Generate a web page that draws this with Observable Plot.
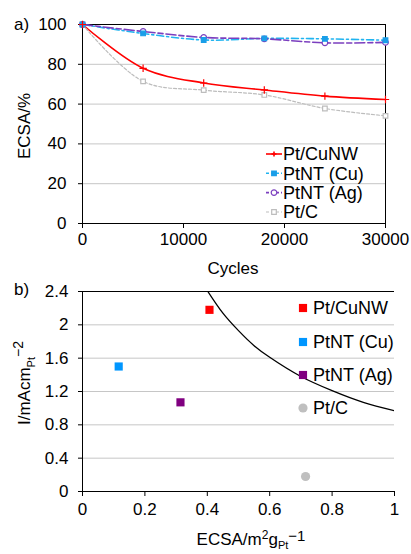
<!DOCTYPE html>
<html>
<head>
<meta charset="utf-8">
<script src="https://cdn.jsdelivr.net/npm/d3@7"></script>
<script src="https://cdn.jsdelivr.net/npm/@observablehq/plot@0.6"></script>
<style>
  html, body { margin: 0; padding: 0; background: #fff; }
  #a, #b { width: 411px; display: block; }
  svg { display: block; }
</style>
</head>
<body>
<div id="a"></div>
<div id="b"></div>
<script>
// ---------- Panel a data ----------
const cycles = [0, 6000, 12000, 18000, 24000, 30000];
const ptCuNW = [100, 78, 70.6, 67.1, 64, 62.3];
const ptntCu = [100, 95.5, 92.2, 93, 92.8, 92.1];
const ptntAg = [100, 96.5, 93.5, 92.8, 90.8, 91];
const ptC = [100, 71.4, 67, 64.6, 57.8, 54.1];
const seriesNames = ["Pt/CuNW", "PtNT (Cu)", "PtNT (Ag)", "Pt/C"];
const xTicksA = [0, 10000, 20000, 30000];
const yTicksA = [0, 20, 40, 60, 80, 100];

// ---------- Panel b data ----------
const ecsa = [0.407, 0.116, 0.314, 0.715];
const current = [2.18, 1.50, 1.07, 0.18];
const curveX = [0.40, 0.45, 0.50, 0.55, 0.60, 0.70, 0.80, 0.90, 1.00];
const curveY = [2.41, 2.14, 1.93, 1.75, 1.61, 1.38, 1.21, 1.07, 0.97];
const xTicksB = [0, 0.2, 0.4, 0.6, 0.8, 1];
const yTicksB = [0, 0.4, 0.8, 1.2, 1.6, 2, 2.4];

const FONT = "'Liberation Sans', Arial, sans-serif";
const FS = 17;
const LFS = 18;

function rows(vals) { return cycles.map((c, i) => ({x: c, y: vals[i]})); }
const styleA = [
  {name: seriesNames[0], data: rows(ptCuNW), color: "#ff0000", dash: null, symbol: "plus", fill: "none", mstroke: "#ff0000", r: 2.5, sw: 1.6},
  {name: seriesNames[1], data: rows(ptntCu), color: "#20b4f0", dash: "7,3,2,3", symbol: "square", fill: "#1a9ee8", mstroke: "#1a9ee8", r: 2.6, sw: 1.6},
  {name: seriesNames[2], data: rows(ptntAg), color: "#7b3fbf", dash: "10,3,5,3", symbol: "circle", fill: "white", mstroke: "#7b3fbf", r: 2.8, sw: 1.6},
  {name: seriesNames[3], data: rows(ptC), color: "#bdbdbd", dash: "3,2", symbol: "square", fill: "white", mstroke: "#bdbdbd", r: 2.6, sw: 1.2}
];

const marksA = [
  Plot.gridY([20, 40, 60, 80], {stroke: "#c6c6c6", strokeOpacity: 1, strokeWidth: 1}),
  Plot.ruleY([100], {stroke: "black", strokeWidth: 1}),
  Plot.ruleX([30000], {stroke: "black", strokeWidth: 1}),
  Plot.ruleX([0], {stroke: "black", strokeWidth: 1}),
  Plot.ruleY([0], {stroke: "black", strokeWidth: 1}),
  Plot.axisX({ticks: xTicksA, tickFormat: d => String(d), tickSize: 5, tickPadding: 4, label: null, fontSize: FS}),
  Plot.axisY({ticks: yTicksA, tickSize: 4, tickPadding: 12, label: null, fontSize: FS})
];
for (const s of styleA) {
  marksA.push(Plot.line(s.data, {x: "x", y: "y", stroke: s.color, strokeWidth: s.sw, strokeDasharray: s.dash, curve: "catmull-rom"}));
}
for (const s of styleA.slice().reverse()) {
  marksA.push(Plot.dot(s.data, {x: "x", y: "y", symbol: () => s.symbol, r: s.r, fill: s.fill, stroke: s.mstroke, strokeWidth: 1.2}));
}

const chartA = Plot.plot({
  width: 411, height: 280,
  marginLeft: 82, marginRight: 26, marginTop: 24, marginBottom: 57,
  style: {fontFamily: FONT, fontSize: FS + "px", color: "black", background: "white", overflow: "visible"},
  x: {domain: [0, 30000]},
  y: {domain: [0, 100]},
  marks: marksA
});
document.getElementById("a").appendChild(chartA);

// decorations for panel a (labels & legend)
{
  const svg = d3.select(chartA);
  const g = svg.append("g").attr("font-family", FONT).attr("font-size", FS).attr("fill", "black").attr("text-anchor", "start");
  g.append("text").attr("x", 14).attr("y", 24).attr("dy", "0.35em").text("a)");
  g.append("text").attr("x", 233).attr("y", 268).attr("dy", "0.35em").attr("text-anchor", "middle").text("Cycles");
  g.append("text").attr("transform", "translate(24,126) rotate(-90)").attr("dy", "0.35em").attr("text-anchor", "middle").text("ECSA/%");
  const ys = [154, 173.3, 192.6, 212];
  const sym = {square: d3.symbolSquare, circle: d3.symbolCircle};
  styleA.forEach((s, i) => {
    const y = ys[i];
    g.append("line").attr("x1", 266).attr("x2", 282).attr("y1", y).attr("y2", y)
      .attr("stroke", s.color).attr("stroke-width", s.sw).attr("stroke-dasharray", s.dash ? "3,2" : null);
    if (s.symbol === "plus") {
      g.append("path").attr("d", `M${274-2.5},${y}h5M${274},${y-2.5}v5`).attr("stroke", s.mstroke).attr("stroke-width", 1.6).attr("fill", "none");
    } else {
      g.append("path").attr("transform", `translate(274,${y})`).attr("d", d3.symbol(sym[s.symbol], Math.PI * s.r * s.r)())
        .attr("fill", s.fill).attr("stroke", s.mstroke).attr("stroke-width", 1.2);
    }
    g.append("text").attr("x", 283).attr("y", y).attr("dy", "0.35em").attr("font-size", LFS).attr("text-anchor", "start").text(s.name);
  });
}

// ---------- Panel b ----------
const colorsB = ["#ff0000", "#0096ff", "#800080", "#bfbfbf"];
const symbolsB = ["square", "square", "square", "circle"];
const pointsB = ecsa.map((e, i) => ({x: e, y: current[i], name: seriesNames[i], color: colorsB[i], symbol: symbolsB[i]}));
const curveRows = curveX.map((x, i) => ({x, y: curveY[i]}));

const chartB = Plot.plot({
  width: 411, height: 274,
  marginLeft: 82, marginRight: 17, marginTop: 11, marginBottom: 63,
  style: {fontFamily: FONT, fontSize: FS + "px", color: "black", background: "white", overflow: "visible"},
  x: {domain: [0, 1]},
  y: {domain: [0, 2.4]},
  symbol: {type: "identity"},
  marks: [
    Plot.gridY([0.4, 0.8, 1.2, 1.6, 2], {stroke: "#c6c6c6", strokeOpacity: 1, strokeWidth: 1}),
    Plot.ruleY([2.4], {stroke: "black", strokeWidth: 1}),
    Plot.ruleX([0], {stroke: "black", strokeWidth: 1}),
    Plot.ruleY([0], {stroke: "black", strokeWidth: 1}),
    Plot.axisX({ticks: xTicksB, tickFormat: d => String(d), tickSize: 5, tickPadding: 6, label: null, fontSize: FS}),
    Plot.axisY({ticks: yTicksB, tickFormat: d => String(d), tickSize: 4, tickPadding: 10, label: null, fontSize: FS}),
    Plot.line(curveRows, {x: "x", y: "y", stroke: "black", strokeWidth: 1.3, curve: "catmull-rom", clip: true}),
    Plot.dot(pointsB, {x: "x", y: "y", fill: "color", symbol: "symbol", r: 4.6})
  ]
});
document.getElementById("b").appendChild(chartB);

{
  const svg = d3.select(chartB);
  const g = svg.append("g").attr("font-family", FONT).attr("font-size", FS).attr("fill", "black").attr("text-anchor", "start");
  g.append("text").attr("x", 14).attr("y", 9).attr("dy", "0.35em").text("b)");
  // legend
  const ys = [28, 62, 95, 128];
  pointsB.forEach((p, i) => {
    const y = ys[i];
    const path = d3.symbol(p.symbol === "circle" ? d3.symbolCircle : d3.symbolSquare, Math.PI * 4.6 * 4.6)();
    g.append("path").attr("transform", `translate(303,${y})`).attr("d", path).attr("fill", p.color);
    g.append("text").attr("x", 313).attr("y", y).attr("dy", "0.35em").attr("font-size", LFS).attr("text-anchor", "start").text(p.name);
  });
  // y label
  const yl = g.append("text").attr("transform", "translate(24,103) rotate(-90)").attr("dy", "0.35em").attr("text-anchor", "middle");
  yl.append("tspan").text("I/mAcm");
  yl.append("tspan").attr("font-size", 11).attr("dy", 5).text("Pt");
  yl.append("tspan").attr("font-size", 14).attr("dy", -12).text("\u22122");
  // x label
  const xl = g.append("text").attr("x", 251).attr("y", 265).attr("text-anchor", "middle");
  xl.append("tspan").text("ECSA/m");
  xl.append("tspan").attr("font-size", 12).attr("dy", -6).text("2");
  xl.append("tspan").attr("dy", 6).text("g");
  xl.append("tspan").attr("font-size", 11).attr("dy", 4).text("Pt");
  xl.append("tspan").attr("font-size", 15).attr("dy", -8).text("\u22121");
}
</script>
</body>
</html>
